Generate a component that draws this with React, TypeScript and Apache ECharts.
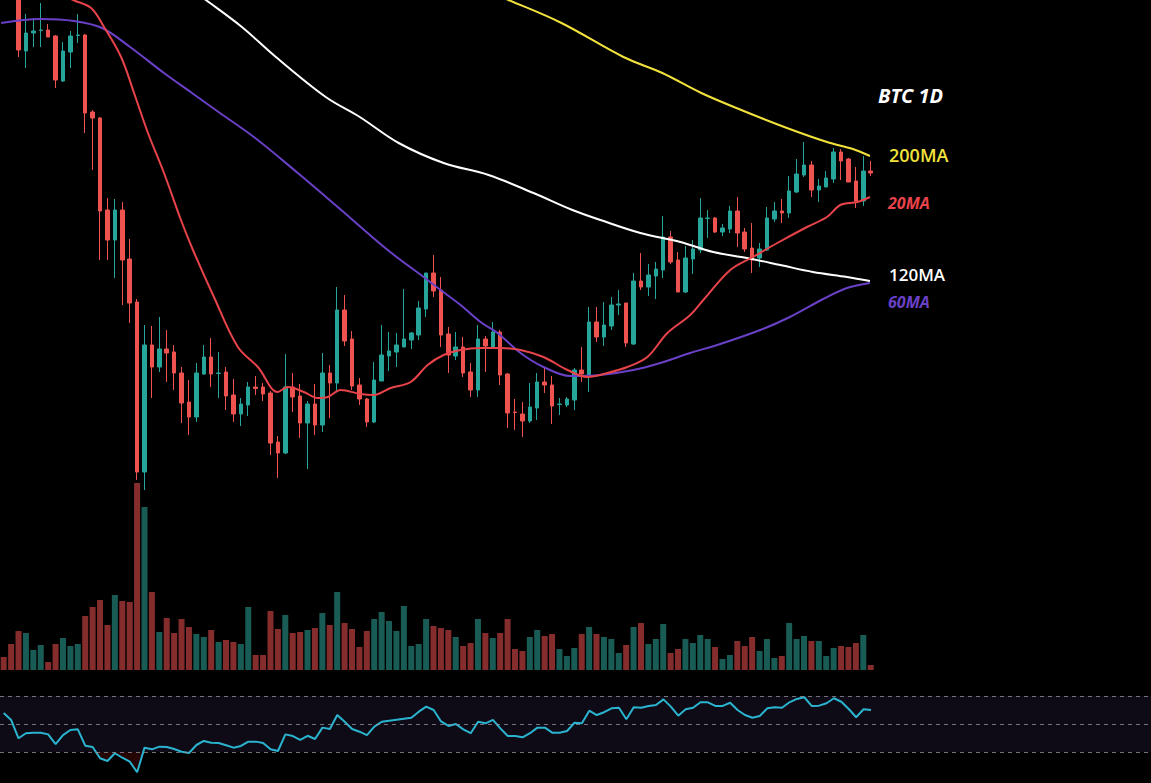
import React, { useEffect, useRef } from 'react';
import * as echarts from 'echarts';

// Daily candles: [open, close, low, high]
const CANDLES: [number, number, number, number][] = [
  [42400, 41200, 41000, 42800], [41200, 40320, 40120, 41400], [40200, 38000, 37720, 40400],
  [37960, 38680, 37280, 39440], [38680, 38760, 38120, 39280], [38780, 38800, 38120, 39880],
  [38800, 38520, 38520, 39040], [38560, 36800, 36480, 38600], [36760, 37960, 36720, 38320],
  [37920, 38560, 37280, 38760], [38580, 38600, 38280, 39440], [38600, 35480, 34680, 38640],
  [35520, 35280, 33200, 35600], [35280, 31560, 29600, 35320], [31600, 30400, 29600, 32080],
  [30400, 31600, 28880, 32040], [31600, 29600, 27800, 31920], [29640, 27880, 27080, 30440],
  [27920, 21120, 20800, 28040], [21120, 26200, 20400, 27000], [26200, 25320, 24080, 26960],
  [25320, 26040, 25120, 27320], [26040, 25880, 24720, 26800], [25920, 25080, 24400, 26200],
  [25080, 23880, 23080, 25320], [23920, 23320, 22600, 24800], [23320, 25080, 23120, 25480],
  [25040, 25720, 25000, 26200], [25720, 25040, 24520, 26480], [25060, 25080, 24080, 25920],
  [25120, 24160, 23600, 25320], [24200, 23440, 23120, 24840], [23440, 23840, 22960, 24080],
  [23800, 24520, 23360, 24720], [24520, 24460, 24200, 24960], [24520, 24240, 23960, 24680],
  [24280, 22280, 21800, 24360], [22320, 21880, 20880, 22560], [21880, 24520, 21840, 25840],
  [24520, 24120, 23520, 25080], [24160, 23080, 22480, 24640], [23080, 23840, 21240, 23960],
  [23840, 23000, 22600, 24640], [23000, 25080, 22720, 25880], [25080, 24680, 23280, 25400],
  [24680, 27600, 24320, 28520], [27600, 26360, 26160, 28200], [26440, 24560, 24400, 26760],
  [24600, 24040, 23800, 24880], [24040, 23120, 22920, 24080], [23120, 24800, 23080, 25520],
  [24760, 25800, 24760, 27000], [25760, 25960, 25160, 26720], [25920, 26200, 25320, 26680],
  [26120, 26440, 26120, 28440], [26400, 26680, 26040, 26720], [26600, 27680, 26400, 27960],
  [27640, 29080, 27320, 29080], [29080, 28360, 28120, 29800], [28400, 26600, 26120, 28920],
  [26640, 25800, 25080, 26920], [25760, 26120, 25600, 26720], [26120, 25080, 24920, 26520],
  [25120, 24400, 24120, 25480], [24400, 26440, 24120, 27000], [26440, 26160, 25120, 26560],
  [26120, 26720, 26120, 27120], [26720, 25000, 24600, 26800], [25040, 23480, 22880, 25080],
  [23520, 23500, 22800, 24040], [23440, 23160, 22520, 23920], [23160, 23720, 23080, 24680],
  [23680, 24720, 23200, 25080], [24720, 24600, 24280, 25320], [24600, 23760, 23040, 24960],
  [23820, 23840, 23400, 24080], [23800, 24040, 23720, 24120], [24000, 25200, 23600, 25280],
  [25200, 25040, 24720, 26120], [25000, 27120, 24320, 27720], [27120, 26520, 26320, 27720],
  [26520, 27000, 26160, 27920], [26960, 27800, 26800, 28120], [27800, 27840, 27400, 28400],
  [27880, 26280, 26120, 27880], [26240, 28760, 26200, 29080], [28760, 28520, 28400, 29880],
  [28520, 29000, 28160, 29440], [28960, 29240, 28040, 29520], [29200, 30520, 28880, 31360],
  [30520, 29520, 29440, 30760], [29600, 28320, 28320, 29920], [28320, 29680, 28280, 30160],
  [29640, 30040, 29040, 30400], [30000, 31280, 29880, 32080], [31260, 31280, 30480, 31600],
  [31280, 30720, 30680, 31320], [30720, 30880, 30560, 31040], [30840, 31560, 30680, 31760],
  [31560, 30680, 30120, 32120], [30720, 30040, 29920, 30880], [30080, 29600, 29080, 31080],
  [29680, 30040, 29320, 30280], [30000, 31280, 29960, 31720], [31240, 31560, 31120, 31920],
  [31560, 31480, 31080, 32040], [31480, 32360, 31280, 32960], [32320, 33040, 32280, 33640],
  [33000, 33400, 32920, 34320], [33400, 32400, 32120, 33560], [32400, 32560, 31920, 32840],
  [32520, 32880, 32520, 33160], [32840, 33920, 32680, 34080], [33920, 33560, 32800, 34040],
  [33640, 32720, 32720, 33680], [32760, 31960, 31680, 33320], [31960, 33160, 31760, 33760],
  [33160, 33080, 32960, 33560],
];

// Daily volume (thousands)
const VOLUME = [
  13, 26, 39, 37, 20, 25, 8, 26, 32, 24,
  26, 54, 63, 70, 45, 75, 69, 68, 187, 163,
  78, 38, 52, 37, 51, 43, 36, 33, 40, 28,
  30, 28, 26, 63, 15, 15, 59, 41, 55, 37,
  38, 40, 42, 57, 45, 78, 47, 41, 23, 39,
  51, 58, 49, 39, 64, 24, 26, 51, 44, 42,
  40, 33, 24, 27, 51, 37, 32, 37, 51, 21,
  19, 33, 40, 34, 36, 21, 14, 22, 36, 43,
  36, 33, 31, 17, 25, 43, 47, 26, 31, 46,
  17, 21, 31, 27, 35, 31, 23, 11, 15, 29,
  24, 33, 19, 31, 12, 14, 47, 31, 34, 29,
  29, 14, 22, 24, 23, 27, 35, 5,
];

// RSI(14)
const RSI = [
  57.9, 52.9, 39.8, 43.4, 43.8, 43.8, 42.6, 35.7, 42.1, 45.7,
  46.2, 34.5, 33.6, 25.5, 23.6, 29.1, 25.9, 23.1, 15.5, 33.1,
  31.9, 33.8, 33.6, 32.1, 30.2, 29.3, 35.0, 37.9, 36.6, 36.4,
  34.8, 33.1, 34.3, 37.4, 37.4, 36.4, 31.9, 30.7, 42.6, 41.4,
  38.6, 41.6, 39.3, 47.4, 46.4, 56.4, 51.6, 46.4, 44.5, 42.1,
  48.1, 51.6, 52.4, 53.1, 53.8, 54.5, 58.8, 62.4, 60.0, 51.8,
  48.6, 50.0, 46.2, 43.4, 51.6, 50.5, 52.9, 46.9, 41.4, 41.4,
  40.5, 43.4, 47.4, 47.4, 43.8, 43.8, 45.0, 50.9, 50.5, 59.5,
  56.4, 58.4, 61.2, 61.6, 53.4, 61.9, 61.6, 62.9, 63.6, 67.6,
  62.4, 55.9, 60.5, 61.6, 65.5, 65.5, 62.9, 62.9, 65.2, 60.0,
  56.4, 54.5, 55.7, 61.2, 61.9, 61.6, 65.5, 67.9, 69.1, 62.9,
  63.1, 64.8, 68.4, 65.9, 60.7, 54.8, 60.5, 60.0,
];
const RSI_LEVELS = [30, 50, 70];

// Moving averages sampled along the day index: [day, price]
const MA20: [number, number][] = [
  [7.08, 40320], [9.37, 40000], [11.79, 39680], [13.54, 38920], [15.84, 37720],
  [17.59, 36280], [19.47, 34680], [21.63, 33080], [23.92, 31200], [25.54, 30000],
  [28.37, 28120], [31.6, 26120], [34.3, 25320], [36.99, 24320], [38.34, 24520],
  [40.5, 24320], [42.39, 24080], [43.73, 24120], [45.49, 24400], [48.18, 24240],
  [49.93, 24200], [52.22, 24480], [54.92, 24720], [57.21, 25400], [59.37, 25800],
  [61.66, 26000], [64.35, 26080], [67.05, 26080], [69.74, 26000], [72.84, 25720],
  [76.08, 25200], [78.77, 24920], [81.47, 25080], [84.16, 25320], [86.86, 25720],
  [89.56, 26680], [92.65, 27400], [94.41, 28000], [98.05, 29200], [101.1, 29720],
  [104.4, 30280], [108.4, 30920], [111.1, 31320], [112.9, 31800], [115.2, 31920],
  [116.9, 32120],
];
const MA60: [number, number][] = [
  [-0.34, 39080], [4.92, 39240], [9.5, 39160], [13.27, 38880], [17.05, 38120],
  [21.63, 37080], [25.4, 36280], [29.18, 35480], [33.76, 34520], [39.69, 33080],
  [45.08, 31720], [51.82, 30000], [56.67, 28920], [58.96, 28400], [61.66, 27800],
  [64.35, 27120], [66.64, 26680], [69.74, 25880], [72.84, 25320], [76.48, 24960],
  [80.53, 25000], [84.97, 25200], [88.61, 25480], [92.65, 25880], [96.7, 26240],
  [102.1, 26800], [106.1, 27320], [110.6, 28040], [113.8, 28480], [116.9, 28680],
];
const MA120: [number, number][] = [
  [25.27, 40440], [27.29, 40000], [32.14, 38920], [36.73, 37720], [43.46, 36120],
  [48.05, 35320], [53.3, 34280], [59.37, 33480], [65.43, 33000], [71.5, 32280],
  [76.75, 31600], [80.53, 31200], [85.92, 30680], [91.31, 30320], [95.75, 29920],
  [100.3, 29680], [104.8, 29400], [109.2, 29120], [113.8, 28920], [116.9, 28760],
];
const MA200: [number, number][] = [
  [63.01, 40640], [68.13, 40000], [75.27, 39080], [83.63, 37720], [88.88, 37080],
  [94.14, 36280], [99.53, 35600], [105.7, 34880], [111.1, 34320], [114.6, 34040],
  [116.9, 33760],
];

const DAYS = CANDLES.map((_, i) => `D${i + 1}`);
const N = CANDLES.length;

const UP = '#26a69a';
const DOWN = '#ef5350';
const VOL_UP = '#185c55';
const VOL_DOWN = '#842d2c';
const C20 = '#e8434a';
const C60 = '#6a41c6';
const C120 = '#ffffff';
const C200 = '#f2e23c';

const PLOT_LEFT = -1.2;
const PLOT_W = 875.6;
const FULL_W = 1152.2;
const STEP = PLOT_W / N;

export default function App() {
  const ref = useRef<HTMLDivElement>(null);

  useEffect(() => {
    const chart = echarts.init(ref.current!, null, { renderer: 'svg' });
    const maLine = (name: string, data: [number, number][], color: string) => ({
      name,
      type: 'line',
      xAxisIndex: 1,
      yAxisIndex: 0,
      data,
      smooth: 0.35,
      symbol: 'none',
      z: 4,
      lineStyle: { color, width: 2 },
    });

    chart.setOption({
      animation: false,
      backgroundColor: '#000000',
      grid: [
        { left: PLOT_LEFT, top: 0, width: PLOT_W, height: 500 },
        { left: PLOT_LEFT, top: 470, width: PLOT_W, height: 200 },
        { left: PLOT_LEFT, top: 654, width: FULL_W, height: 126 },
      ],
      xAxis: [
        { type: 'category', gridIndex: 0, data: DAYS, show: false },
        { type: 'value', gridIndex: 0, min: -0.5, max: N - 0.5, show: false },
        { type: 'category', gridIndex: 1, data: DAYS, show: false },
        { type: 'value', gridIndex: 2, min: -0.5, max: -0.5 + FULL_W / STEP, show: false },
      ],
      yAxis: [
        { type: 'value', gridIndex: 0, min: 20000, max: 40000, show: false },
        { type: 'value', gridIndex: 1, min: 0, max: 200, show: false },
        { type: 'value', gridIndex: 2, min: 10, max: 100, show: false },
      ],
      series: [
        {
          name: 'Volume',
          type: 'bar',
          xAxisIndex: 2,
          yAxisIndex: 1,
          barWidth: 6,
          z: 1,
          data: VOLUME.map((v, i) => ({
            value: v,
            itemStyle: { color: CANDLES[i][1] >= CANDLES[i][0] ? VOL_UP : VOL_DOWN },
          })),
        },
        {
          name: 'BTC',
          type: 'candlestick',
          xAxisIndex: 0,
          yAxisIndex: 0,
          barWidth: 4,
          z: 3,
          data: CANDLES,
          itemStyle: {
            color: UP,
            color0: DOWN,
            borderColor: UP,
            borderColor0: DOWN,
            borderWidth: 1,
          },
        },
        maLine('MA200', MA200, C200),
        maLine('MA120', MA120, C120),
        maLine('MA60', MA60, C60),
        maLine('MA20', MA20, C20),
        {
          name: 'Oversold',
          type: 'line',
          xAxisIndex: 3,
          yAxisIndex: 2,
          data: RSI.map((v, i) => [i, Math.min(v, 30)]),
          symbol: 'none',
          lineStyle: { width: 0 },
          areaStyle: { origin: 30, color: 'rgba(95,10,10,0.55)' },
          z: 2,
        },
        {
          name: 'RSI',
          type: 'line',
          xAxisIndex: 3,
          yAxisIndex: 2,
          data: RSI.map((v, i) => [i, v]),
          symbol: 'none',
          z: 3,
          lineStyle: { color: '#2bb4d0', width: 2 },
          markArea: {
            silent: true,
            itemStyle: { color: '#0e0b16' },
            data: [[{ yAxis: RSI_LEVELS[0] }, { yAxis: RSI_LEVELS[2] }]],
          },
          markLine: {
            silent: true,
            symbol: ['none', 'none'],
            label: { show: false },
            lineStyle: { type: [4, 4], color: 'rgba(150,150,160,0.75)', width: 1 },
            data: RSI_LEVELS.map((y) => ({ yAxis: y })),
          },
        },
      ],
      graphic: [
        {
          type: 'text', x: 878, y: 95, z: 10,
          style: { text: 'BTC 1D', fill: '#ffffff', font: 'italic bold 20px "Open Sans"', verticalAlign: 'middle' },
        },
        {
          type: 'text', x: 889, y: 155, z: 10,
          style: { text: '200MA', fill: C200, font: '600 18px "Open Sans"', verticalAlign: 'middle' },
        },
        {
          type: 'text', x: 888, y: 203, z: 10,
          style: { text: '20MA', fill: C20, font: 'italic bold 16px "Open Sans"', verticalAlign: 'middle' },
        },
        {
          type: 'text', x: 889, y: 274, z: 10,
          style: { text: '120MA', fill: C120, font: '600 17px "Open Sans"', verticalAlign: 'middle' },
        },
        {
          type: 'text', x: 888, y: 302, z: 10,
          style: { text: '60MA', fill: C60, font: 'italic bold 16px "Open Sans"', verticalAlign: 'middle' },
        },
      ],
    });

    return () => chart.dispose();
  }, []);

  return (
    <div
      ref={ref}
      style={{ position: 'absolute', left: 0, top: 0, width: 1151, height: 783, background: '#000' }}
    />
  );
}
